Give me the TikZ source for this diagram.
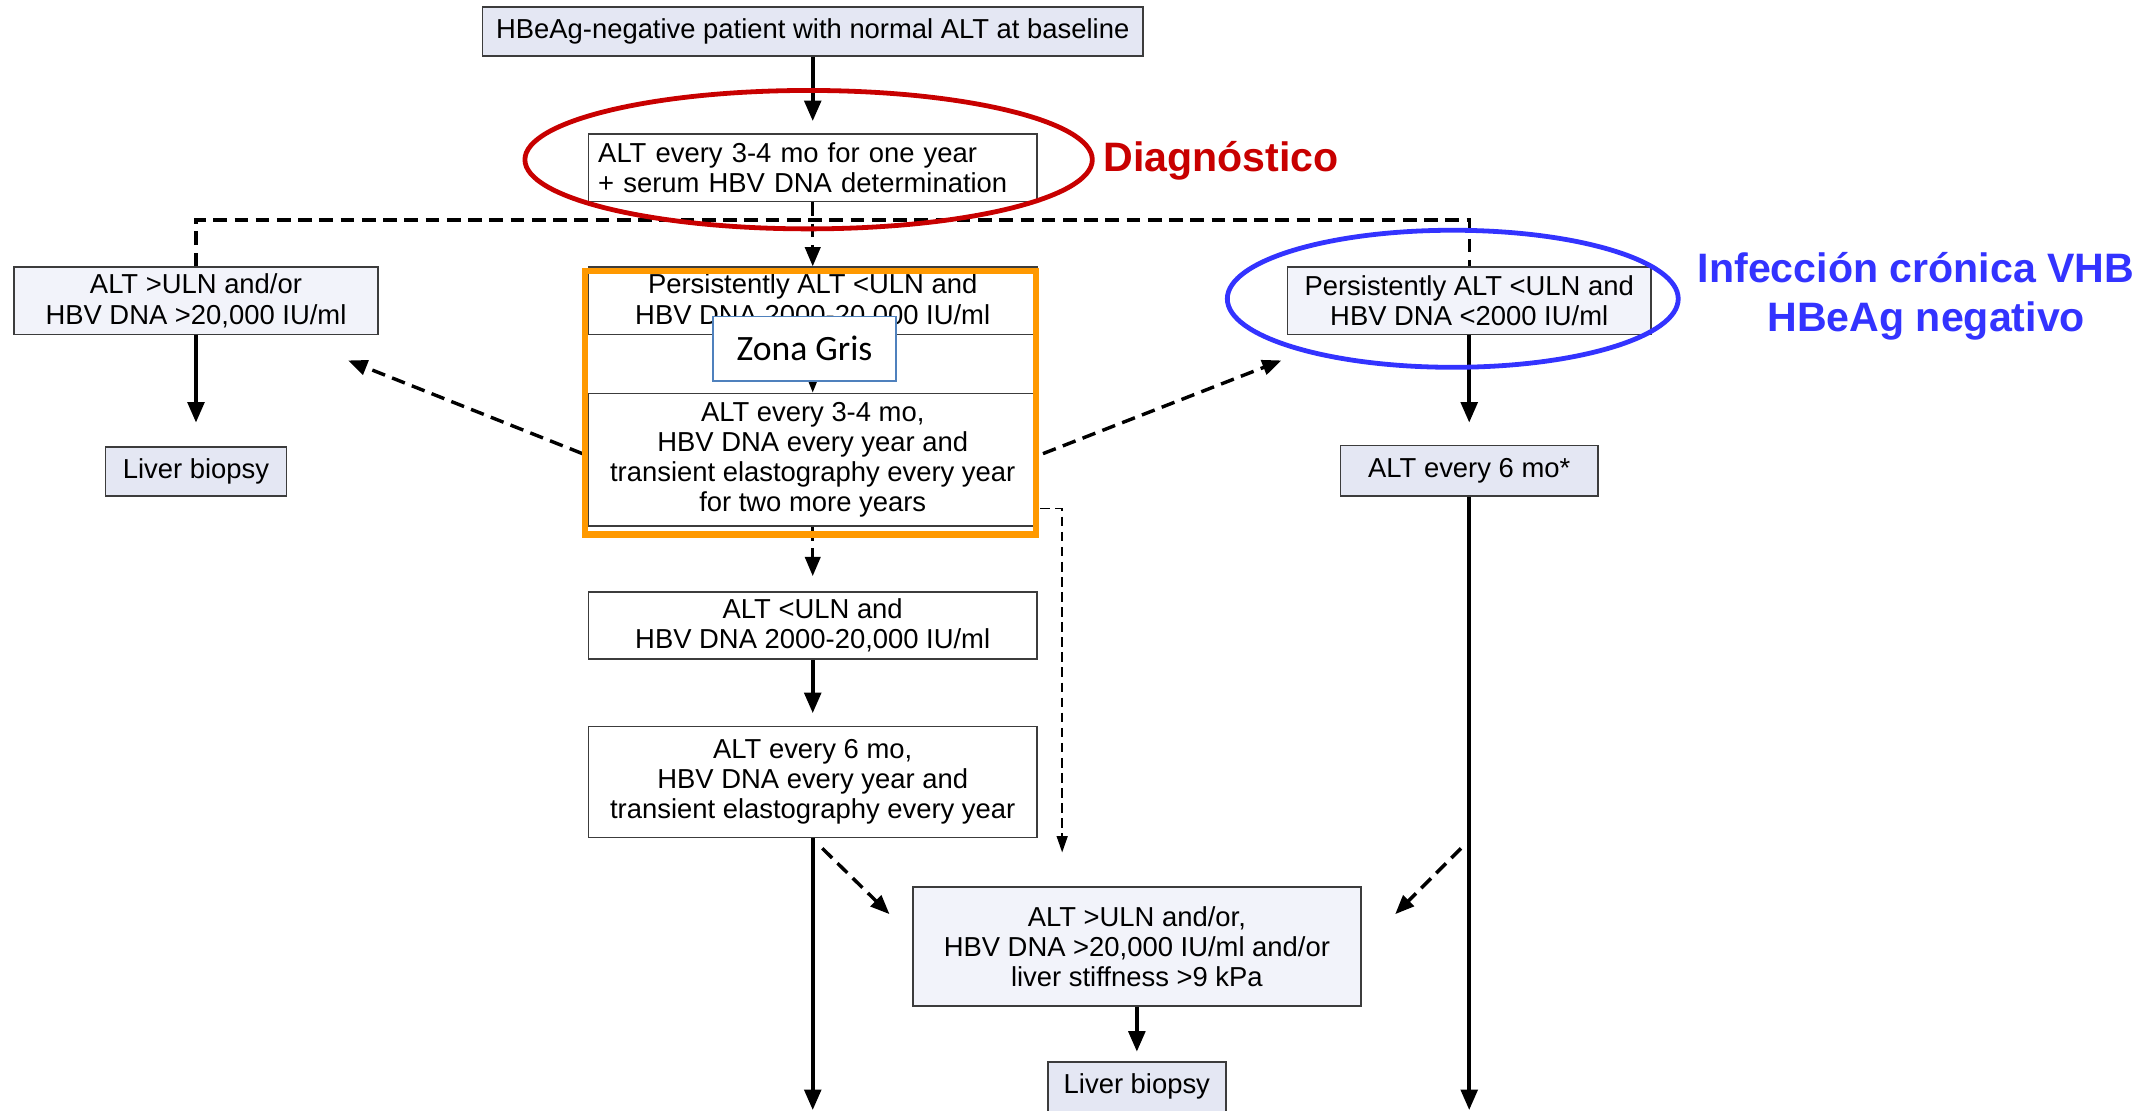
\documentclass[tikz,border=0pt]{standalone}
\usepackage{fontspec}
\setmainfont{Liberation Sans}
\newfontfamily\calibri{Carlito}
\usetikzlibrary{arrows.meta,calc}
\definecolor{fillA}{RGB}{228,231,243}
\definecolor{fillB}{RGB}{242,243,250}
\definecolor{bordc}{RGB}{60,60,60}
\definecolor{redc}{RGB}{200,0,0}
\definecolor{bluec}{RGB}{51,51,255}
\definecolor{orangec}{RGB}{255,153,0}
\definecolor{zgblue}{RGB}{79,129,189}
\tikzset{
  box/.style={draw=bordc, line width=1.2pt, align=center, inner sep=0pt,
    font=\fontsize{20}{22}\selectfont},
  solidarr/.style={line width=3pt, -{Triangle[length=15pt,width=12pt]}},
  dasharr/.style={line width=2.5pt, dash pattern=on 10pt off 5.5pt, -{Triangle[length=14pt,width=11pt]}},
  dashln/.style={line width=2.5pt, dash pattern=on 10pt off 5.5pt},
  thinarr/.style={line width=1.2pt, dash pattern=on 7pt off 4pt, -{Triangle[length=12pt,width=8pt]}},
  thinsolid/.style={line width=1.2pt, -{Triangle[length=8pt,width=6pt]}},
  biglabel/.style={inner sep=0pt, font=\bfseries\fontsize{30}{36}\selectfont}
}
\begin{document}
\begin{tikzpicture}[x=1pt,y=-1pt]
\useasboundingbox[fill=white] (0,0) rectangle (1568,810);

% boxes
\node[box, fill=fillA, minimum width=482pt, minimum height=36pt] (top) at (593,23) {HBeAg-negative patient with normal ALT at baseline};
\node[box, fill=white, text width=313pt, inner xsep=7pt, align=left, minimum height=49pt] (dx) at (593,122.5) {ALT every 3-4 mo for one year\\+ serum HBV DNA determination};
\node[box, fill=fillB, minimum width=266pt, minimum height=49pt] (hi) at (143,219.5) {ALT >ULN and/or\\HBV DNA >20,000 IU/ml};
\node[box, fill=fillA, minimum width=132pt, minimum height=36pt] (lb1) at (143,344) {Liver biopsy};
\node[box, fill=white, minimum width=327pt, minimum height=49pt] (gz1) at (593,219.5) {Persistently ALT <ULN and\\HBV DNA 2000-20,000 IU/ml};
\node[box, fill=white, minimum width=327pt, minimum height=97pt] (gz2) at (593,335.5) {ALT every 3-4 mo,\\HBV DNA every year and\\transient elastography every year\\for two more years};
\node[box, fill=white, minimum width=327pt, minimum height=49pt] (gz3) at (593,456.5) {ALT <ULN and\\HBV DNA 2000-20,000 IU/ml};
\node[box, fill=white, minimum width=327pt, minimum height=81pt] (gz4) at (593,570.5) {ALT every 6 mo,\\HBV DNA every year and\\transient elastography every year};
\node[box, fill=fillB, minimum width=327pt, minimum height=87pt] (prog) at (829.5,690.5) {ALT >ULN and/or,\\HBV DNA >20,000 IU/ml and/or\\liver stiffness >9 kPa};
\node[box, fill=fillA, minimum width=130pt, minimum height=36pt] (lb2) at (829.5,793) {Liver biopsy};
\node[box, fill=fillB, minimum width=265pt, minimum height=49pt] (inact) at (1072,219.5) {Persistently ALT <ULN and\\HBV DNA <2000 IU/ml};
\node[box, fill=fillA, minimum width=188pt, minimum height=37pt] (six) at (1072,343.5) {ALT every 6 mo*};

% coordinates
\coordinate (jl) at (143,160.5);
\coordinate (jr) at (1072,160.5);
\coordinate (e1) at (593,810);
\coordinate (e2) at (1072,810);
\coordinate (dl1) at (425,331);
\coordinate (dl2) at (254,263);
\coordinate (dr1) at (761,331);
\coordinate (dr2) at (935,263);
\coordinate (d6a) at (600,619);
\coordinate (d6b) at (649,667);
\coordinate (dra) at (1066,619);
\coordinate (drb) at (1018,667);
\coordinate (t1) at (759,371);
\coordinate (t2) at (775,371);
\coordinate (t3) at (775,622);

% connectors
\draw[solidarr, shorten >=9pt] (top.south) -- (dx.north);
\draw[dashln] (hi.north) -- (jl) -- (jr) -- (inact.north);
\draw[dasharr] (dx.south) -- (gz1.north);
\draw[solidarr, shorten >=17pt] (hi.south) -- (lb1.north);
\draw[solidarr, shorten >=16pt] (inact.south) -- (six.north);
\draw[thinsolid] (gz1.south) -- (gz2.north);
\draw[dasharr, shorten >=11pt] (gz2.south) -- (gz3.north);
\draw[solidarr, shorten >=9pt] (gz3.south) -- (gz4.north);
\draw[solidarr] (gz4.south) -- (e1);
\draw[solidarr] (six.south) -- (e2);
\draw[solidarr, shorten >=7pt] (prog.south) -- (lb2.north);
\draw[dasharr] (dl1) -- (dl2);
\draw[dasharr] (dr1) -- (dr2);
\draw[dasharr] (d6a) -- (d6b);
\draw[dasharr] (dra) -- (drb);
\draw[thinarr] (t1) -- (t2) -- (t3);

% highlight frames
\node[draw=orangec, line width=4.5pt, minimum width=329pt, minimum height=192pt, inner sep=0pt] (frame) at (591.5,294) {};
\node[draw=zgblue, line width=1.3pt, fill=white, minimum width=134pt, minimum height=47pt, inner sep=0pt, font=\calibri\fontsize{26}{30}\selectfont] (zg) at (587,254.5) {Zona Gris};
\draw[redc, line width=3.5pt] (590,116.5) ellipse [x radius=207pt, y radius=50.5pt];
\draw[bluec, line width=3.5pt] (1060,218) ellipse [x radius=164.5pt, y radius=50pt];

% labels
\node[biglabel, text=redc, anchor=base west] (diag) at (805,125.3) {Diagnóstico};
\node[biglabel, text=bluec, anchor=base] (inf1) at (1398,206.3) {Infección crónica VHB};
\node[biglabel, text=bluec, anchor=base] (inf2) at (1405.5,242) {HBeAg negativo};
\end{tikzpicture}
\end{document}
